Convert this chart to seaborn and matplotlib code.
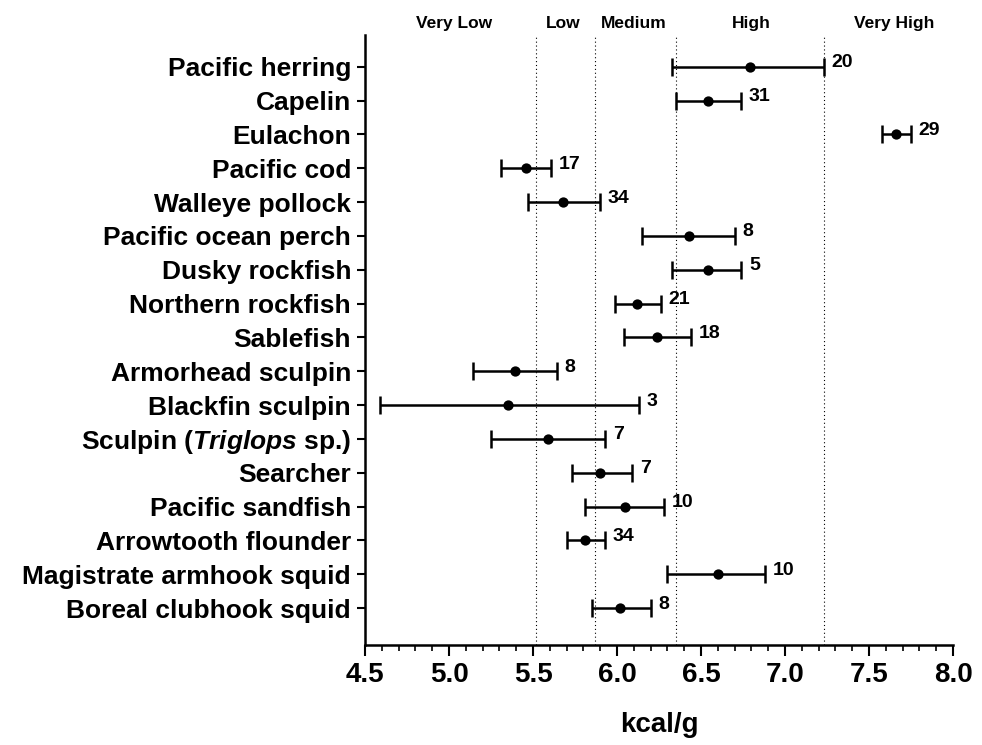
import matplotlib
matplotlib.use("Agg")
import matplotlib.pyplot as plt
from matplotlib.ticker import MultipleLocator
import seaborn as sns
import numpy as np
import pandas as pd

# data (kcal/g)
species = [
    "Pacific herring", "Capelin", "Eulachon", "Pacific cod", "Walleye pollock",
    "Pacific ocean perch", "Dusky rockfish", "Northern rockfish", "Sablefish",
    "Armorhead sculpin", "Blackfin sculpin", "Sculpin ($\\it{Triglops}$ sp.)",
    "Searcher", "Pacific sandfish", "Arrowtooth flounder",
    "Magistrate armhook squid", "Boreal clubhook squid",
]
energy_mean = [6.79, 6.54, 7.66, 5.46, 5.68, 6.43, 6.54, 6.12, 6.24,
               5.39, 5.35, 5.59, 5.90, 6.05, 5.81, 6.60, 6.02]
energy_low = [6.33, 6.35, 7.58, 5.31, 5.47, 6.15, 6.33, 5.99, 6.04,
              5.14, 4.59, 5.25, 5.73, 5.81, 5.70, 6.30, 5.85]
energy_high = [7.23, 6.74, 7.75, 5.61, 5.90, 6.70, 6.74, 6.26, 6.44,
               5.64, 6.13, 5.93, 6.09, 6.28, 5.93, 6.88, 6.20]
sample_n = [20, 31, 29, 17, 34, 8, 5, 21, 18, 8, 3, 7, 7, 10, 34, 10, 8]

class_bounds = [5.52, 5.87, 6.35, 7.23]
class_names = ["Very Low", "Low", "Medium", "High", "Very High"]
class_label_x = [5.03, 5.68, 6.10, 6.80, 7.65]

df = pd.DataFrame({"species": species, "mean": energy_mean,
                   "low": energy_low, "high": energy_high, "n": sample_n})

sns.set_style("ticks", {"axes.edgecolor": "black", "xtick.color": "black",
                        "ytick.color": "black", "text.color": "black",
                        "axes.labelcolor": "black"})
plt.rcParams["font.family"] = ["Liberation Sans", "DejaVu Sans"]
plt.rcParams["mathtext.fontset"] = "custom"
plt.rcParams["mathtext.rm"] = "Liberation Sans:bold"
plt.rcParams["mathtext.it"] = "Liberation Sans:bold:italic"

fig = plt.figure(figsize=(9.82, 7.45), dpi=100)
ax = fig.add_axes([0.3717, 0.1342, 0.5988, 0.8188])

ypos = np.arange(len(df))
ax.errorbar(df["mean"], ypos,
            xerr=[df["mean"] - df["low"], df["high"] - df["mean"]],
            fmt="none", ecolor="black", elinewidth=1.8, capsize=6.5, capthick=1.8)
sns.scatterplot(data=df, x="mean", y="species", ax=ax, color="black",
                s=55, edgecolor="black", linewidth=0, zorder=3)

for i, row in df.iterrows():
    ax.text(row["high"] + 0.045, i - 0.12, str(row["n"]), fontsize=14,
            fontweight="bold", va="center", ha="left")

for b in class_bounds:
    ax.axvline(b, color="black", linestyle=(0, (1, 2.5)), linewidth=0.8, zorder=0)

for name, xc in zip(class_names, class_label_x):
    ax.text(xc, 1.012, name, transform=ax.get_xaxis_transform(), ha="center",
            va="baseline", fontsize=12.5, fontweight="bold")

ax.set_xlim(4.5, 8.0)
ax.set_ylim(len(df) - 1 + 1.09, -0.94)
ax.xaxis.set_minor_locator(MultipleLocator(0.1))
xt = np.arange(4.5, 8.01, 0.5)
ax.set_xticks(xt)
ax.set_xticklabels([f"{v:.1f}" for v in xt], fontsize=20, fontweight="bold")
ax.set_yticks(ypos)
ax.set_yticklabels(species, fontsize=19, fontweight="bold")
ax.tick_params(axis="x", which="major", length=8, width=1.5, pad=4.5)
ax.tick_params(axis="x", which="minor", length=4, width=1.2)
ax.tick_params(axis="y", length=6, width=1.5, pad=4)
ax.set_xlabel("kcal/g", fontsize=20, fontweight="bold", labelpad=17)
ax.set_ylabel("")
sns.despine(ax=ax)
for s in ["left", "bottom"]:
    ax.spines[s].set_linewidth(1.8)

fig.savefig("out.png", dpi=100)
